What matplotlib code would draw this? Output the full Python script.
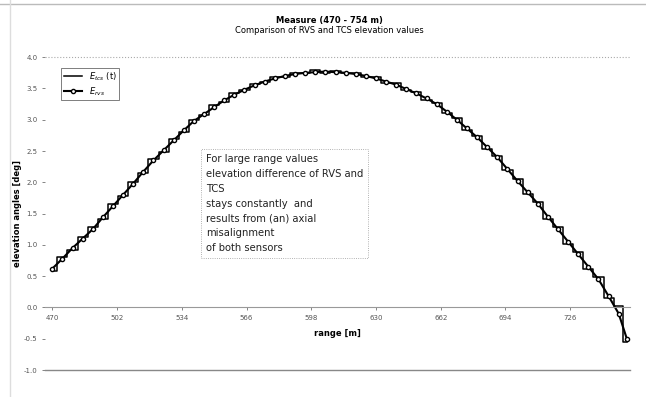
import matplotlib
matplotlib.use("Agg")
import matplotlib.pyplot as plt
from matplotlib.lines import Line2D

# ---- data ----
range_m = [470, 475, 480, 485, 490, 495, 500, 505, 510, 515, 520, 525, 530, 535, 540, 545,
           550, 555, 560, 565, 570, 575, 580, 585, 590, 595, 600, 605, 610, 615, 620, 625,
           630, 635, 640, 645, 650, 655, 660, 665, 670, 675, 680, 685, 690, 695, 700, 705,
           710, 715, 720, 725, 730, 735, 740, 745, 750, 754]
e_rvs = [0.62, 0.78, 0.95, 1.10, 1.25, 1.44, 1.62, 1.80, 1.98, 2.17, 2.35, 2.51, 2.67, 2.83,
         2.98, 3.09, 3.20, 3.31, 3.40, 3.48, 3.55, 3.61, 3.66, 3.70, 3.73, 3.75, 3.76, 3.77,
         3.76, 3.75, 3.73, 3.70, 3.66, 3.61, 3.56, 3.49, 3.42, 3.34, 3.25, 3.13, 3.00, 2.86,
         2.72, 2.56, 2.40, 2.21, 2.02, 1.84, 1.66, 1.45, 1.25, 1.05, 0.85, 0.65, 0.45, 0.18,
         -0.10, -0.50]
e_tcs = [0.58, 0.80, 0.92, 1.13, 1.28, 1.42, 1.65, 1.78, 2.01, 2.15, 2.38, 2.49, 2.70, 2.81,
         3.00, 3.07, 3.23, 3.29, 3.42, 3.47, 3.57, 3.60, 3.68, 3.69, 3.75, 3.74, 3.79, 3.75,
         3.78, 3.74, 3.75, 3.68, 3.68, 3.59, 3.58, 3.47, 3.44, 3.32, 3.27, 3.11, 3.02, 2.84,
         2.74, 2.54, 2.42, 2.19, 2.05, 1.81, 1.69, 1.42, 1.28, 1.02, 0.88, 0.62, 0.48, 0.15,
         0.02, -0.55]
x_ticks = [470, 502, 534, 566, 598, 630, 662, 694, 726]
y_ticks = [-1.0, -0.5, 0.0, 0.5, 1.0, 1.5, 2.0, 2.5, 3.0, 3.5, 4.0]

title1 = "Measure (470 - 754 m)"
title2 = "Comparison of RVS and TCS elevation values"
note = ("For large range values\n"
        "elevation difference of RVS and\n"
        "TCS\n"
        "stays constantly  and\n"
        "results from (an) axial\n"
        "misalignment\n"
        "of both sensors")

plt.rcParams['font.family'] = ['DejaVu Sans']
fig = plt.figure(figsize=(6.46, 3.97), dpi=100)
ax = fig.add_axes([0.070, 0.068, 0.905, 0.788])

ax.plot(range_m, e_tcs, color='black', lw=1.1, drawstyle='steps-mid', label=r'$E_{tcs}$ (t)')
ax.plot(range_m, e_rvs, color='black', lw=1.5, marker='o', ms=3.0, mfc='white', mec='black',
        mew=1.0, label=r'$E_{rvs}$')

ax.set_xlim(466.5, 755.5)
ax.set_ylim(-1.0, 4.0)
ax.set_xticks(x_ticks)
ax.set_yticks(y_ticks)
ax.set_yticklabels([f"{v:.1f}" for v in y_ticks])
ax.tick_params(axis='both', labelsize=5, colors='#555555', length=2, width=0.5)

for s in ['top', 'right', 'left']:
    ax.spines[s].set_visible(False)
ax.spines['bottom'].set_position(('data', 0))
ax.spines['bottom'].set_color('#999999')
ax.spines['bottom'].set_linewidth(0.8)
ax.axhline(-1.0, color='#888888', lw=1.0, clip_on=False)
ax.axhline(4.0, color='#aaaaaa', lw=0.8, ls=':', clip_on=False)

ax.set_xlabel('range [m]', fontsize=6, fontweight='bold', labelpad=6)
ax.set_ylabel('elevation angles [deg]', fontsize=6, fontweight='bold', labelpad=1)

fig.text(0.51, 0.948, title1, ha='center', va='center', fontsize=6, fontweight='bold')
fig.text(0.51, 0.922, title2, ha='center', va='center', fontsize=6)

leg = ax.legend(loc='upper left', bbox_to_anchor=(0.02, 0.98), fontsize=6, frameon=True,
                fancybox=False, edgecolor='#444444', handlelength=2.2, borderpad=0.3,
                labelspacing=0.3)
leg.get_frame().set_linewidth(0.6)

ax.text(0.275, 0.69, note, transform=ax.transAxes, ha='left', va='top', fontsize=7.2,
        linespacing=1.6, color='#222222',
        bbox=dict(boxstyle='square,pad=0.5', fc='white', ec='#999999', lw=0.6, ls=':'))

# faint scan borders
fig.add_artist(Line2D([0.0, 1.0], [0.99, 0.99], transform=fig.transFigure, color='#bbbbbb', lw=1.0))
fig.add_artist(Line2D([0.015, 0.015], [0.0, 1.0], transform=fig.transFigure, color='#dddddd', lw=1.0))

fig.savefig('out.png', dpi=100)
